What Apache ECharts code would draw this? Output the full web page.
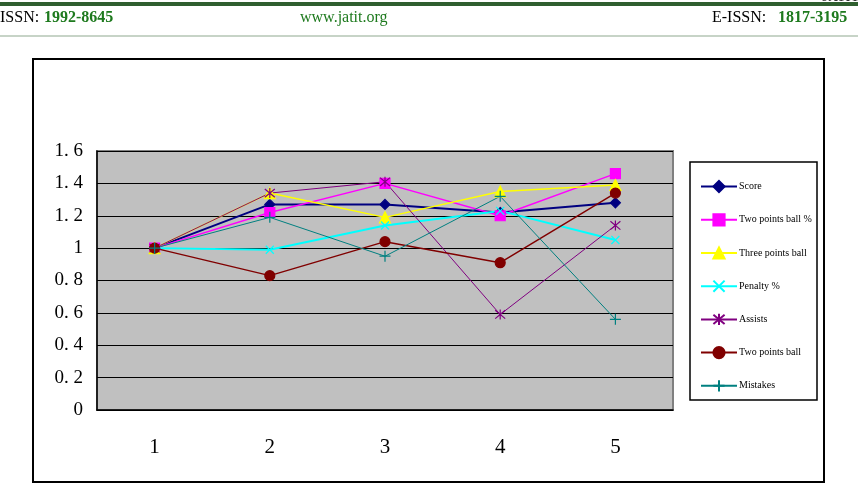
<!DOCTYPE html>
<html>
<head>
<meta charset="utf-8">
<script src="https://cdn.jsdelivr.net/npm/echarts@6/dist/echarts.min.js"></script>
<style>
    html, body { margin: 0; padding: 0; background: #fff; }
    #main { width: 858px; height: 484px; }
</style>
</head>
<body>
<div id="main"></div>
<script>
// categories and series values
var categories = ['1', '2', '3', '4', '5'];
var score        = [1.00, 1.27, 1.27, 1.22, 1.28];
var twoPointsPct = [1.00, 1.22, 1.40, 1.20, 1.46];
var threePoints  = [1.00, 1.34, 1.19, 1.35, 1.39];
var penaltyPct   = [1.00, 0.99, 1.14, 1.23, 1.05];
var assists      = [1.00, 1.34, 1.41, 0.59, 1.14];
var twoPoints    = [1.00, 0.83, 1.04, 0.91, 1.34];
var mistakes     = [1.00, 1.19, 0.95, 1.32, 0.56];
var seriesNames = ['Score', 'Two points ball %', 'Three points ball', 'Penalty %', 'Assists', 'Two points ball', 'Mistakes'];

var chart = echarts.init(document.getElementById('main'));

/**
 * 一条折线的配置
 */
function makeLine(name, data, color, symbol, size, width) {
    return {
        name: name,
        type: 'line',
        data: data,
        symbol: symbol,
        symbolSize: size,
        showAllSymbol: true,
        lineStyle: { color: color, width: width },
        itemStyle: { color: color, borderColor: color, borderWidth: 1.2 },
        emphasis: { disabled: true }
    };
}

var xMark = 'path://M0,0L10,10M10,0L0,10';
var starMark = 'path://M0,0L10,10M10,0L0,10M5,-1L5,11';
var plusMark = 'path://M5,0L5,10M0,5L10,5';

var option = {
    animation: false,
    backgroundColor: '#fff',
    textStyle: { fontFamily: 'Liberation Serif' },
    grid: {
        left: 97,
        top: 151,
        width: 576,
        height: 259,
        show: true,
        backgroundColor: '#C0C0C0',
        borderColor: '#808080',
        borderWidth: 2
    },
    legend: {
        orient: 'vertical',
        left: 695,
        top: 175,
        itemWidth: 36,
        itemHeight: 14,
        itemGap: 20,
        textStyle: { fontSize: 10, color: '#000', fontFamily: 'Liberation Serif', padding: [0, 0, 0, -3] },
        data: seriesNames
    },
    xAxis: {
        type: 'category',
        data: categories,
        boundaryGap: true,
        axisLine: { lineStyle: { color: '#000', width: 1.5 } },
        axisTick: { inside: true, length: 7, lineStyle: { color: '#000' } },
        axisLabel: { fontSize: 21, color: '#000', margin: 27, fontFamily: 'Liberation Serif' },
        splitLine: { show: false }
    },
    yAxis: {
        type: 'value',
        min: 0,
        max: 1.6,
        interval: 0.2,
        axisLine: { show: true, lineStyle: { color: '#000', width: 1.5 } },
        axisTick: { show: true, inside: true, length: 4, lineStyle: { color: '#000' } },
        axisLabel: {
            fontSize: 19,
            color: '#000',
            margin: 14,
            fontFamily: 'Liberation Serif',
            formatter: function (v) {
                if (v === 0 || v === 1) return String(v);
                return v.toFixed(1).replace('.', '. ');
            }
        },
        splitLine: { show: true, lineStyle: { color: '#000', width: 1 } }
    },
    graphic: [
        // 页眉
        { type: 'rect', shape: { x: 0, y: 2, width: 858, height: 4 }, style: { fill: '#2F5F2F' } },
        { type: 'text', x: 822, y: -9, style: { text: 'JATIT', font: 'bold 13px Liberation Serif', fill: '#333' } },
        { type: 'text', x: 0, y: 10, style: { text: 'ISSN:', font: '16px Liberation Serif', fill: '#000' } },
        { type: 'text', x: 44, y: 10, style: { text: '1992-8645', font: 'bold 16px Liberation Serif', fill: '#1E7A1E' } },
        { type: 'text', x: 300, y: 10, style: { text: 'www.jatit.org', font: '16px Liberation Serif', fill: '#1E7A1E' } },
        { type: 'text', x: 712, y: 10, style: { text: 'E-ISSN:', font: '16px Liberation Serif', fill: '#000' } },
        { type: 'text', x: 778, y: 10, style: { text: '1817-3195', font: 'bold 16px Liberation Serif', fill: '#1E7A1E' } },
        { type: 'line', shape: { x1: 0, y1: 36, x2: 858, y2: 36 }, style: { stroke: '#8FA88F', lineWidth: 1 } },
        // 图表外框
        { type: 'rect', shape: { x: 33, y: 59, width: 791, height: 423 }, style: { fill: 'none', stroke: '#000', lineWidth: 2 }, z: -1 },
        // 图例外框
        { type: 'rect', shape: { x: 690, y: 162, width: 127, height: 238 }, style: { fill: '#fff', stroke: '#000', lineWidth: 1.5 }, z: -1 }
    ],
    series: [
        makeLine(seriesNames[0], score, '#000080', 'diamond', 10, 2),
        makeLine(seriesNames[1], twoPointsPct, '#FF00FF', 'rect', 10, 1.5),
        makeLine(seriesNames[2], threePoints, '#FFFF00', 'triangle', 11, 1.5),
        makeLine(seriesNames[3], penaltyPct, '#00FFFF', xMark, 8, 2),
        makeLine(seriesNames[4], assists, '#800080', starMark, 10, 1),
        makeLine(seriesNames[5], twoPoints, '#800000', 'circle', 10, 1.5),
        makeLine(seriesNames[6], mistakes, '#008080', plusMark, 11, 1)
    ]
};
chart.setOption(option);
</script>
</body>
</html>
